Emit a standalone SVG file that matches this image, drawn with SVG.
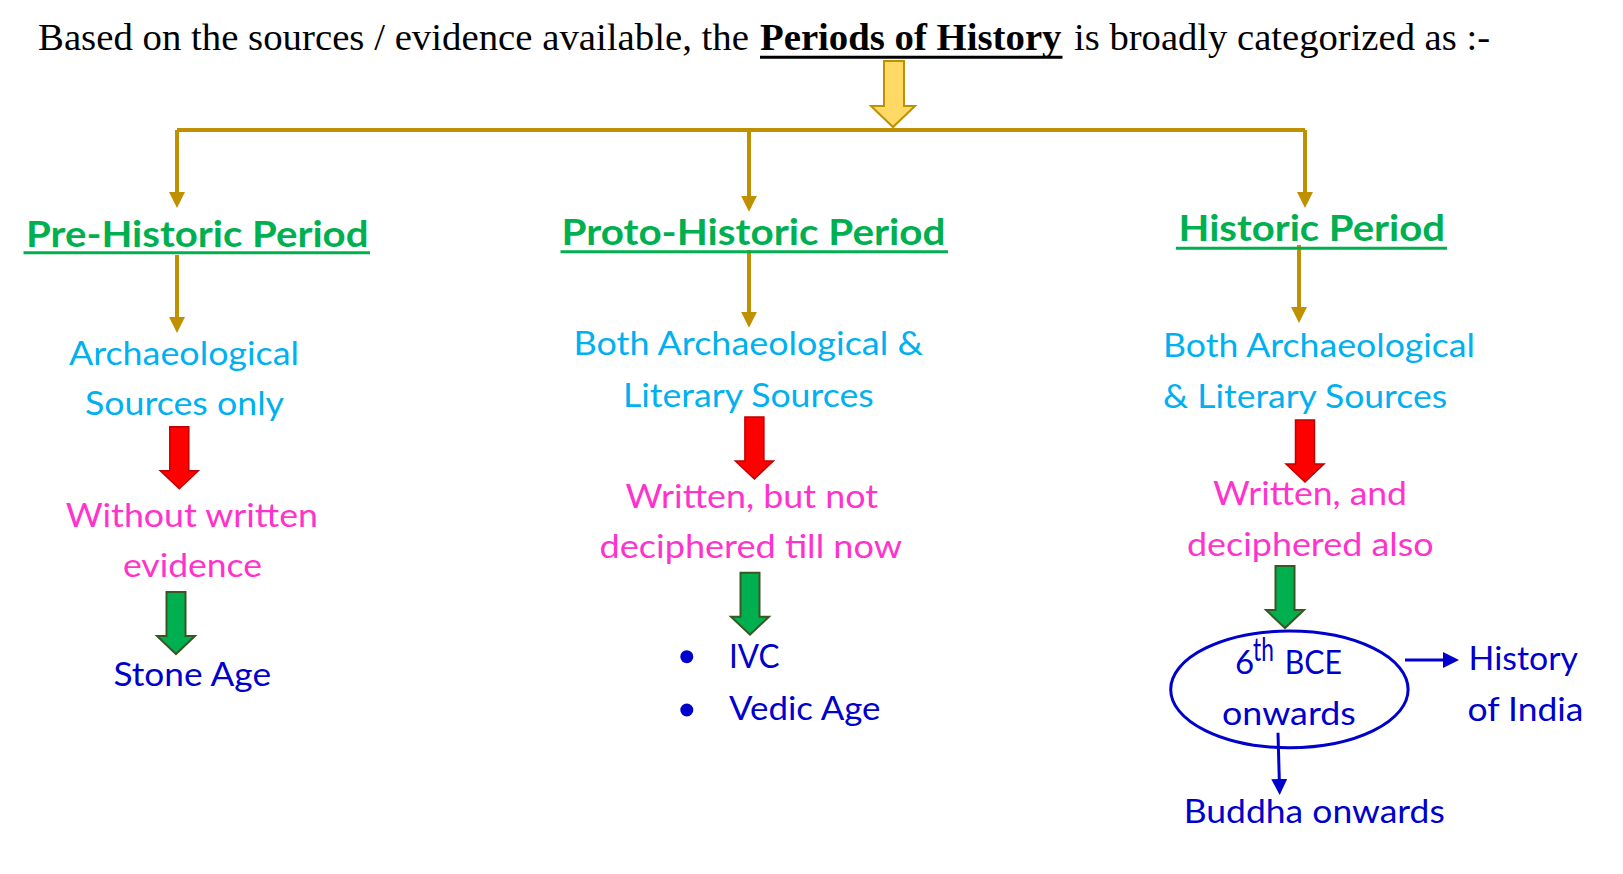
<svg xmlns="http://www.w3.org/2000/svg" width="1623" height="874" viewBox="0 0 1623 874">
<style>
  .title{font-family:"Liberation Serif","Times New Roman",serif;font-size:38px;fill:#000}
  .head{font-family:Lato,"Liberation Sans",sans-serif;font-weight:bold;font-size:37px;fill:#00B050}
  .cyan{font-family:Lato,"Liberation Sans",sans-serif;font-size:32.5px;fill:#00B0F0}
  .pink{font-family:Lato,"Liberation Sans",sans-serif;font-size:33px;fill:#FF33CC}
  .blue{font-family:Lato,"Liberation Sans",sans-serif;font-size:33px;fill:#0000CC}
  .uline{stroke:#00B050;stroke-width:3}
  .gold{fill:none;stroke:#BF9000;stroke-width:4}
  .red{fill:#FF0000;stroke:#C00000;stroke-width:1.5}
  .green{fill:#00B050;stroke:#385723;stroke-width:2}
  .bline{fill:none;stroke:#0000CC;stroke-width:3}
</style>
<defs>
  <marker id="gh" viewBox="0 0 16 16" refX="12" refY="8" markerWidth="16" markerHeight="16" markerUnits="userSpaceOnUse" orient="auto">
    <path d="M0,0 L16,8 L0,16 Z" fill="#BF9000"/>
  </marker>
  <marker id="bh" viewBox="0 0 16 16" refX="12" refY="8" markerWidth="16" markerHeight="16" markerUnits="userSpaceOnUse" orient="auto">
    <path d="M0,0 L16,8 L0,16 Z" fill="#0000CC"/>
  </marker>
  <path id="blockArrow" d="M-9.5,0 H9.5 V44 H19 L0,62 L-19,44 H-9.5 Z"/>
</defs>

<g id="title">
  <text class="title" x="38" y="50" textLength="711" lengthAdjust="spacingAndGlyphs">Based on the sources / evidence available, the</text>
  <text class="title" x="760" y="50" font-weight="bold" textLength="301.5" lengthAdjust="spacingAndGlyphs">Periods of History</text>
  <line x1="760" y1="57.3" x2="1062.5" y2="57.3" stroke="#000" stroke-width="3"/>
  <text class="title" x="1074" y="50" textLength="416" lengthAdjust="spacingAndGlyphs">is broadly categorized as :-</text>
</g>

<g id="connectors">
  <path d="M884,61 H904 V106 H915 L893,127 L871,106 H884 Z" fill="#FFD966" stroke="#BF9000" stroke-width="2"/>
  <path class="gold" d="M177,130 H1305"/>
  <path class="gold" d="M177,130 V204" marker-end="url(#gh)"/>
  <path class="gold" d="M749,130 V207.7" marker-end="url(#gh)"/>
  <path class="gold" d="M1305,130 V204" marker-end="url(#gh)"/>
  <path class="gold" d="M177,255 V329" marker-end="url(#gh)"/>
  <path class="gold" d="M749,250 V323.7" marker-end="url(#gh)"/>
  <path class="gold" d="M1299,245 V319" marker-end="url(#gh)"/>
  <use href="#blockArrow" class="red" transform="translate(179.3,426.7)"/>
  <use href="#blockArrow" class="red" transform="translate(754.4,417)"/>
  <use href="#blockArrow" class="red" transform="translate(1305,420)"/>
  <use href="#blockArrow" class="green" transform="translate(176,592)"/>
  <use href="#blockArrow" class="green" transform="translate(750,572.7)"/>
  <use href="#blockArrow" class="green" transform="translate(1285,566)"/>
  <path class="bline" d="M1405,660 H1455" marker-end="url(#bh)"/>
  <path class="bline" d="M1278,732.7 L1279.6,791" marker-end="url(#bh)"/>
</g>

<g id="pre-historic">
  <text class="head" x="26" y="246.7" textLength="342.5" lengthAdjust="spacingAndGlyphs">Pre-Historic Period</text>
  <line class="uline" x1="23.5" y1="252.7" x2="370" y2="252.7"/>
</g>
<g id="proto-historic">
  <text class="head" x="561.5" y="245" textLength="384" lengthAdjust="spacingAndGlyphs">Proto-Historic Period</text>
  <line class="uline" x1="560.5" y1="251.7" x2="948" y2="251.7"/>
</g>
<g id="historic">
  <text class="head" x="1178.6" y="240.7" textLength="266.4" lengthAdjust="spacingAndGlyphs">Historic Period</text>
  <line class="uline" x1="1176" y1="248.3" x2="1447" y2="248.3"/>
</g>

<g id="pre-sources">
  <text class="cyan" x="69" y="365" textLength="230" lengthAdjust="spacingAndGlyphs">Archaeological</text>
  <text class="cyan" x="85" y="415" textLength="199" lengthAdjust="spacingAndGlyphs">Sources only</text>
</g>
<g id="proto-sources">
  <text class="cyan" x="573.6" y="355" textLength="349.4" lengthAdjust="spacingAndGlyphs">Both Archaeological &amp;</text>
  <text class="cyan" x="623" y="406.7" textLength="250.6" lengthAdjust="spacingAndGlyphs">Literary Sources</text>
</g>
<g id="historic-sources">
  <text class="cyan" x="1163" y="356.7" textLength="312" lengthAdjust="spacingAndGlyphs">Both Archaeological</text>
  <text class="cyan" x="1163" y="408" textLength="284" lengthAdjust="spacingAndGlyphs">&amp; Literary Sources</text>
</g>

<g id="pre-writing">
  <text class="pink" x="65.7" y="527" textLength="252.3" lengthAdjust="spacingAndGlyphs">Without written</text>
  <text class="pink" x="123" y="577" textLength="139" lengthAdjust="spacingAndGlyphs">evidence</text>
</g>
<g id="proto-writing">
  <text class="pink" x="625.5" y="508" textLength="252.5" lengthAdjust="spacingAndGlyphs">Written, but not</text>
  <text class="pink" x="599.6" y="558" textLength="302.4" lengthAdjust="spacingAndGlyphs">deciphered till now</text>
</g>
<g id="historic-writing">
  <text class="pink" x="1213" y="505" textLength="194" lengthAdjust="spacingAndGlyphs">Written, and</text>
  <text class="pink" x="1187" y="556" textLength="246.6" lengthAdjust="spacingAndGlyphs">deciphered also</text>
</g>

<g id="stone-age">
  <text class="blue" x="113.5" y="686" textLength="157.5" lengthAdjust="spacingAndGlyphs">Stone Age</text>
</g>
<g id="proto-examples">
  <circle cx="686.8" cy="656.7" r="6.5" fill="#0000CC"/>
  <text class="blue" x="729" y="667.7" textLength="50.5" lengthAdjust="spacingAndGlyphs">IVC</text>
  <circle cx="686.8" cy="710" r="6.5" fill="#0000CC"/>
  <text class="blue" x="729" y="720" textLength="151.5" lengthAdjust="spacingAndGlyphs">Vedic Age</text>
</g>
<g id="sixth-bce">
  <ellipse cx="1289.4" cy="689.4" rx="118.7" ry="58.3" fill="none" stroke="#0000CC" stroke-width="3"/>
  <text class="blue" x="1235" y="674">6</text>
  <text class="blue" x="1253" y="661" font-size="20" textLength="20.8" lengthAdjust="spacingAndGlyphs">th</text>
  <text class="blue" x="1284.8" y="674" textLength="57.2" lengthAdjust="spacingAndGlyphs">BCE</text>
  <text class="blue" x="1222" y="725" textLength="133.8" lengthAdjust="spacingAndGlyphs">onwards</text>
</g>
<g id="history-of-india">
  <text class="blue" x="1468.6" y="670" textLength="109.4" lengthAdjust="spacingAndGlyphs">History</text>
  <text class="blue" x="1467.5" y="720.7" textLength="116" lengthAdjust="spacingAndGlyphs">of India</text>
</g>
<g id="buddha">
  <text class="blue" x="1183.8" y="823" textLength="261" lengthAdjust="spacingAndGlyphs">Buddha onwards</text>
</g>
</svg>
